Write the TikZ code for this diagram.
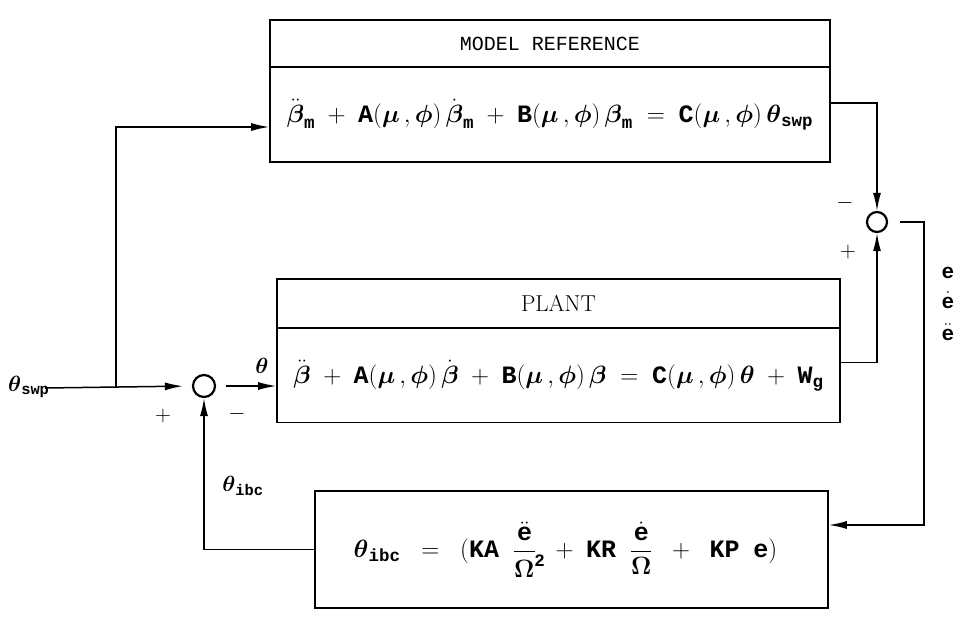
\RequirePackage{fix-cm}
\documentclass[tikz,border=0pt]{standalone}
\usepackage{amsmath}
\usepackage{mathtools}
\usepackage{fontspec}
\setmonofont{Liberation Mono}
\usetikzlibrary{arrows.meta,calc}
\newcommand\tb[1]{\textnormal{\ttfamily\bfseries #1}}
\newcommand\bb[1]{\boldsymbol{#1}}
\tikzset{
  blk/.style={draw,line width=1.6pt,inner sep=0pt},
  sumc/.style={draw,circle,line width=2.2pt,minimum size=22pt,inner sep=0pt},
  ln/.style={line width=1.5pt},
  arr/.style={line width=1.5pt,-{Latex[length=18pt,width=8pt]}},
  lbl/.style={inner sep=0pt,font=\fontsize{22}{26}\selectfont},
  elbl/.style={inner sep=0pt,anchor=base,font=\fontsize{21}{22}\selectfont},
  eq/.style={font=\fontsize{25}{30}\selectfont},
}
\begin{document}
\begin{tikzpicture}[x=1pt,y=-1pt]
\useasboundingbox (0,0) rectangle (956,616);
% model reference
\node[blk,minimum width=560pt,minimum height=47pt] (mt) at (550,43.5) {\fontsize{20}{24}\selectfont\ttfamily MODEL REFERENCE};
\node[blk,minimum width=560pt,minimum height=95pt,eq] (mb) at (550,114.5)
  {$\ddot{\bb\beta}_{\tb{m}} \;+\; \tb{A}(\bb\mu\,,\bb\phi)\,\dot{\bb\beta}_{\tb{m}} \;+\; \tb{B}(\bb\mu\,,\bb\phi)\,\bb\beta_{\tb{m}} \;=\; \tb{C}(\bb\mu\,,\bb\phi)\,\bb\theta_{\tb{swp}}$};
% plant
\node[blk,minimum width=563pt,minimum height=49pt] (pt) at (558.5,303.5) {\fontsize{23}{27}\selectfont PLANT};
\node[blk,minimum width=563pt,minimum height=94pt,eq] (pb) at (558.5,375.5)
  {$\ddot{\bb\beta} \;+\; \tb{A}(\bb\mu\,,\bb\phi)\,\dot{\bb\beta} \;+\; \tb{B}(\bb\mu\,,\bb\phi)\,\bb\beta \;=\; \tb{C}(\bb\mu\,,\bb\phi)\,\bb\theta \;+\; \tb{W}_{\tb{g}}$};
% feedback law
\node[blk,minimum width=513pt,minimum height=117pt,eq] (fb) at (571.5,549.5)
  {\hspace*{-12pt}$\bb\theta_{\tb{ibc}} \;\;=\;\; (\tb{KA}\;\;\dfrac{\ddot{\tb{e}}}{\bb\Omega^{\mathrlap{\tb{2}}}}\;\;+\;\tb{KR}\;\;\dfrac{\dot{\tb{e}}}{\bb\Omega}\;\;+\;\;\tb{KP}\;\;\tb{e})$};
% summing junctions
\node[sumc] (s1) at (204,386) {};
\node[sumc,minimum size=20pt] (s2) at (877,222) {};
% input
\coordinate (in) at (45,388);
\coordinate (br) at (116,388);
\node[lbl,anchor=south west] (lsw) at (8,398) {$\bb\theta_{\tb{swp}}$};
\draw[arr,shorten >=9pt] (in) -- (s1.west);
\draw[arr] (br) |- ([yshift=-12.5pt]mb.west);
\draw[arr,shorten <=10pt] (s1.east) -- (s1.east -| pb.west);
\node[lbl] (lth) at (262,366) {$\bb\theta$};
\node[lbl] (lp1) at (163,416) {$+$};
\node[lbl] (lm1) at (237,414) {$-$};
% feedback
\draw[arr] (fb.west) -| (s1.south);
\node[lbl] (lib) at (243,486) {$\bb\theta_{\tb{ibc}}$};
% right junction
\draw[arr] ([yshift=11.5pt]mb.east) -| (s2.north);
\draw[arr] ([yshift=13pt]pb.east) -| (s2.south);
\node[lbl] (lm2) at (845,203) {$-$};
\node[lbl] (lp2) at (848,252) {$+$};
\coordinate (c2) at (924,219);
\draw[arr,shorten <=12pt] (s2.east) -- (s2.east -| c2) |- ([yshift=24.5pt]fb.east);
% error labels
\node[elbl] (e0) at (948,278) {$\tb{e}$};
\node[elbl] (e1) at (948,308) {$\dot{\tb{e}}$};
\node[elbl] (e2) at (948,340) {$\ddot{\tb{e}}$};
\end{tikzpicture}
\end{document}
